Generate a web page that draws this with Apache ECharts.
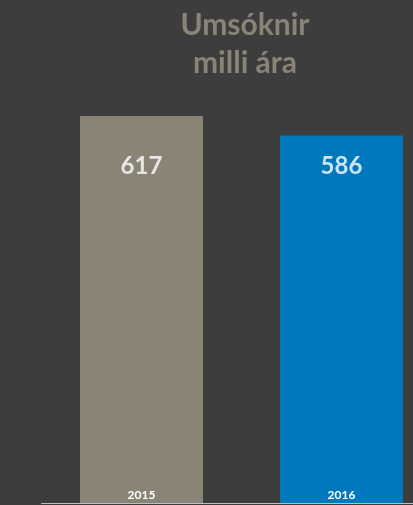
<!DOCTYPE html>
<html>
<head>
<meta charset="utf-8">
<style>
  html, body { margin: 0; padding: 0; background: #3d3d3d; }
  #chart { width: 413px; height: 505px; }
</style>
<script src="https://cdn.jsdelivr.net/npm/echarts@6/dist/echarts.min.js"></script>
</head>
<body>
<div id="chart"></div>
<script>
// Applications per year
const years = ['2015', '2016'];
const applications = [617, 586];
const barColors = ['#8a8477', '#0078be'];
// value labels sit on one common level across both bars
const valueLabelLevel = 537;

const chart = echarts.init(document.getElementById('chart'));
chart.setOption({
  backgroundColor: '#3d3d3d',
  animation: false,
  title: {
    text: 'Umsóknir\nmilli ára',
    left: 240,
    top: 1,
    textAlign: 'center',
    textStyle: {
      color: '#8a8477',
      fontFamily: 'Lato',
      fontWeight: 'bold',
      fontSize: 30,
      lineHeight: 38
    }
  },
  grid: { left: 41.5, width: 400, top: 116, bottom: 2, outerBoundsMode: 'none', containLabel: false },
  xAxis: {
    type: 'category',
    data: years,
    z: 10,
    axisTick: { show: false },
    axisLine: { lineStyle: { color: '#bdbdbd', width: 1 } },
    axisLabel: {
      inside: true,
      margin: 2,
      color: '#ffffff',
      fontFamily: 'Lato',
      fontWeight: 'bold',
      fontSize: 12
    }
  },
  yAxis: {
    type: 'value',
    min: 0,
    max: 'dataMax',
    show: false,
    splitLine: { show: false }
  },
  series: [
    {
      type: 'bar',
      barWidth: 123,
      data: applications.map((v, i) => ({ value: v, itemStyle: { color: barColors[i] } }))
    },
    {
      type: 'scatter',
      symbolSize: 0,
      z: 5,
      data: applications.map((v, i) => [years[i], valueLabelLevel, v]),
      label: {
        show: true,
        position: 'inside',
        formatter: p => p.value[2],
        color: '#ffffff',
        fontFamily: 'Lato',
        fontWeight: 'bold',
        fontSize: 24
      }
    }
  ]
});
</script>
</body>
</html>
